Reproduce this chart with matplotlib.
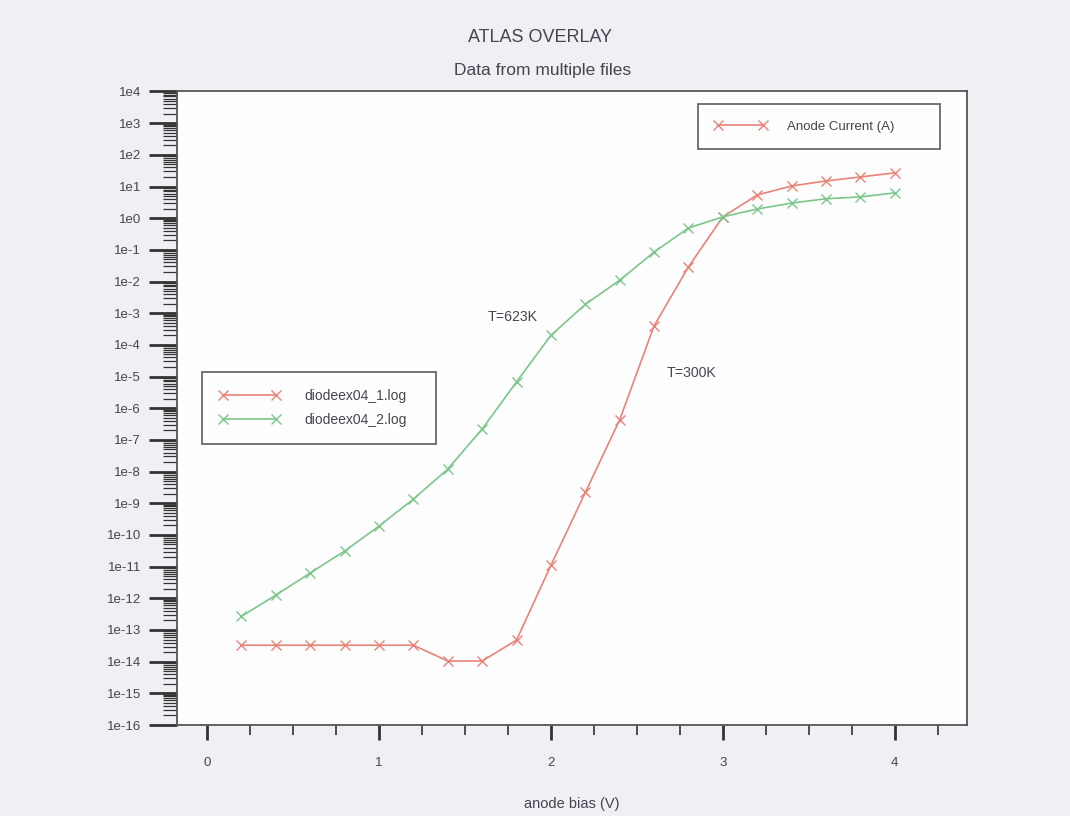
import matplotlib
matplotlib.use("Agg")
import matplotlib.pyplot as plt
import numpy as np
from matplotlib.lines import Line2D
from matplotlib.ticker import LogLocator, FuncFormatter, MultipleLocator, NullFormatter

# anode bias (V)
bias = [0.2, 0.4, 0.6, 0.8, 1.0, 1.2, 1.4, 1.6, 1.8, 2.0,
        2.2, 2.4, 2.6, 2.8, 3.0, 3.2, 3.4, 3.6, 3.8, 4.0]
# anode current (A), T=300K
current_300k = [3.3e-14, 3.3e-14, 3.3e-14, 3.3e-14, 3.3e-14, 3.3e-14, 1.05e-14, 1.05e-14, 4.8e-14, 1.1e-11,
                2.2e-9, 4.3e-7, 4.0e-4, 2.9e-2, 1.1, 5.4, 10.4, 15.0, 20.0, 27.0]
# anode current (A), T=623K
current_623k = [2.7e-13, 1.26e-12, 6.3e-12, 3.1e-11, 1.9e-10, 1.35e-9, 1.2e-8, 2.2e-7, 6.8e-6, 2.0e-4,
                1.9e-3, 1.1e-2, 8.5e-2, 0.49, 1.1, 1.95, 3.0, 4.1, 4.7, 6.3]
labels = ["diodeex04_1.log", "diodeex04_2.log"]

RED = "#e8837a"
GREEN = "#7cc68c"
TXT = "#45454f"
plt.rcParams["font.family"] = ["Liberation Sans", "DejaVu Sans"]

fig = plt.figure(figsize=(10.7, 8.16), dpi=100, facecolor="#eef0f4")
ax = fig.add_axes([0.1654, 0.1115, 0.7383, 0.7764])
ax.set_facecolor("#fdfefd")

l1, = ax.plot(bias, current_300k, color=RED, marker="x", ms=7, mew=1.0, lw=1.2, label=labels[0])
l2, = ax.plot(bias, current_623k, color=GREEN, marker="x", ms=7, mew=1.0, lw=1.2, label=labels[1])

ax.set_yscale("log")
ax.set_ylim(1e-16, 1e4)
ax.set_xlim(-0.175, 4.42)

ax.yaxis.set_major_locator(LogLocator(base=10, numticks=30))
ax.yaxis.set_minor_locator(LogLocator(base=10, subs=np.arange(2, 10), numticks=30))
ax.yaxis.set_major_formatter(FuncFormatter(lambda v, _: f"1e{int(round(np.log10(v)))}"))
ax.yaxis.set_minor_formatter(NullFormatter())
ax.xaxis.set_major_locator(MultipleLocator(1))
ax.xaxis.set_minor_locator(MultipleLocator(0.25))

ax.tick_params(axis="y", which="major", direction="out", length=20, width=2.0,
               color="#333333", labelsize=9.5, labelcolor=TXT, pad=6)
ax.tick_params(axis="y", which="minor", direction="out", length=10, width=0.9, color="#333333")
ax.tick_params(axis="x", which="major", direction="out", length=11, width=2.0,
               color="#333333", labelsize=9.5, labelcolor=TXT, pad=12)
ax.tick_params(axis="x", which="minor", direction="out", length=7.5, width=1.2, color="#333333")
for s in ax.spines.values():
    s.set_color("#555555")
    s.set_linewidth(1.3)

ax.set_xlabel("anode bias (V)", fontsize=10.5, color=TXT, labelpad=20)

fig.text(0.505, 1 - 37 / 816, "ATLAS OVERLAY", ha="center", va="center", fontsize=13, color=TXT)
fig.text(0.507, 1 - 70 / 816, "Data from multiple files", ha="center", va="center", fontsize=12.5, color=TXT)

ax.text(1.78, 7.6e-4, "T=623K", ha="center", va="center", fontsize=10.2, color=TXT)
ax.text(2.82, 1.3e-5, "T=300K", ha="center", va="center", fontsize=10.2, color=TXT)

# file legend
leg2 = ax.legend(handles=[l1, l2], loc="upper left", mode="expand",
                 bbox_to_anchor=(0.0316, 0.457, 0.296, 0.1), numpoints=2,
                 fontsize=10, frameon=True, fancybox=False, edgecolor="#444444",
                 handlelength=4.4, handletextpad=1.8, labelspacing=0.75, borderpad=1.2,
                 borderaxespad=0, labelcolor=TXT)
leg2.get_frame().set_linewidth(1.3)
ax.add_artist(leg2)

# quantity legend
proxy = Line2D([], [], color=RED, marker="x", ms=7, mew=1.0, lw=1.2)
leg1 = ax.legend(handles=[proxy], labels=["Anode Current (A)"], loc="upper left", mode="expand",
                 bbox_to_anchor=(0.6595, 0.9303, 0.3065, 0.05), numpoints=2,
                 fontsize=9.5, frameon=True, fancybox=False, edgecolor="#444444",
                 handlelength=4.0, handletextpad=1.5, borderpad=1.25,
                 borderaxespad=0, labelcolor=TXT)
leg1.get_frame().set_linewidth(1.3)

fig.savefig("out.png", dpi=100, facecolor=fig.get_facecolor())
